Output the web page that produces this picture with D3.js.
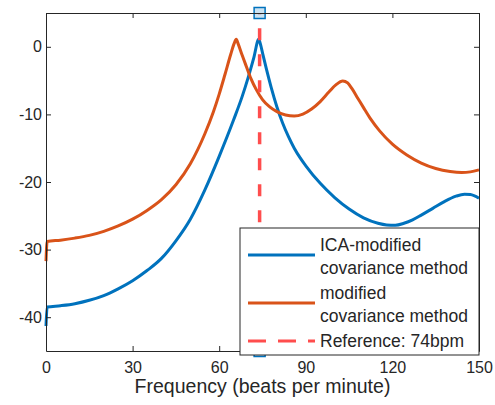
<!DOCTYPE html>
<html lang="en">
<head>
  <meta charset="UTF-8">
  <title>AR spectrum</title>
  <script src="https://d3js.org/d3.v7.min.js"></script>
  <style>
    body { margin: 0; background: #fff; }
    text { font-family: "Liberation Sans", Arial, sans-serif; fill: #262626; }
  </style>
</head>
<body>
  <svg id="spectrum" width="495" height="405"></svg>
  <script>
    // values (frequency in bpm, power in dB)
    const icaFreq = [0, 0.4, 5, 10, 15, 20, 25, 30, 35, 40, 45, 50, 55, 60, 65, 68, 70, 72, 73.7, 74.4, 75, 76.3, 78, 80, 82, 84, 86, 88, 90, 95, 100, 105, 110, 115, 118, 121, 124, 127, 130, 134, 138, 142, 145, 147, 150];
    const icaPower = [-41.3, -38.5, -38.3, -38.0, -37.5, -36.8, -35.8, -34.6, -33.1, -31.3, -28.7, -25.5, -21.2, -16.2, -10.8, -7.3, -4.6, -1.6, 1.1, 0.2, -0.9, -3.2, -6.0, -8.9, -11.3, -13.3, -15.0, -16.4, -17.6, -20.2, -22.3, -24.0, -25.3, -26.1, -26.35, -26.4, -26.1, -25.6, -24.9, -23.9, -22.9, -22.1, -21.8, -21.85, -22.4];

    const modFreq = [0, 0.4, 5, 10, 15, 20, 25, 30, 35, 40, 45, 50, 55, 58, 60, 62, 64, 65.2, 65.9, 66.6, 68, 69.4, 71, 72.8, 75, 77.5, 80, 83, 86, 89, 92, 95, 98, 100.5, 102.8, 104.5, 106, 108, 110, 112.5, 115.5, 120, 125, 130, 135, 140, 144, 147, 150];
    const modPower = [-31.7, -28.8, -28.6, -28.3, -27.9, -27.3, -26.5, -25.5, -24.2, -22.6, -20.4, -17.3, -12.9, -9.6, -7.0, -4.1, -1.1, 0.5, 1.1, 0.4, -1.3, -2.9, -4.7, -6.3, -7.8, -8.9, -9.6, -10.1, -10.25, -9.95, -9.2, -8.1, -6.7, -5.6, -5.05, -5.35, -6.2, -7.6, -9.0, -10.7, -12.4, -14.4, -16.0, -17.2, -18.0, -18.45, -18.6, -18.5, -18.2];

    const refBpm = 74;
    const xTicks = [0, 30, 60, 90, 120, 150];
    const yTicks = [-40, -30, -20, -10, 0];
    const legendLabels = [['ICA-modified', 'covariance method'], ['modified', 'covariance method'], ['Reference: 74bpm']];

    const svg = d3.select('svg#spectrum');
    const width = +svg.attr('width');
    const height = +svg.attr('height');
    const margin = { top: 13, right: 16, bottom: 54, left: 46 };
    const chartWidth = width - margin.left - margin.right;
    const chartHeight = height - margin.top - margin.bottom;

    const blue = '#0072BD';
    const orange = '#D95319';
    const red = '#FF4D4D';
    const axisColor = '#262626';

    const xScale = d3.scaleLinear().domain([0, 150]).range([0, chartWidth]);
    const yScale = d3.scaleLinear().domain([-45, 5]).range([chartHeight, 0]);

    svg.append('rect').attr('width', width).attr('height', height).attr('fill', '#fff');

    const chartArea = svg.append('g')
      .attr('transform', 'translate(' + margin.left + ',' + margin.top + ')');

    const line = d3.line()
      .x(d => xScale(d[0]))
      .y(d => yScale(d[1]))
      .curve(d3.curveMonotoneX);

    chartArea.append('path')
      .datum(d3.zip(icaFreq, icaPower))
      .attr('d', line)
      .attr('fill', 'none')
      .attr('stroke', blue)
      .attr('stroke-width', 3)
      .attr('stroke-linejoin', 'round');

    chartArea.append('path')
      .datum(d3.zip(modFreq, modPower))
      .attr('d', line)
      .attr('fill', 'none')
      .attr('stroke', orange)
      .attr('stroke-width', 3)
      .attr('stroke-linejoin', 'round');

    // reference line
    chartArea.append('line')
      .attr('x1', xScale(refBpm)).attr('x2', xScale(refBpm))
      .attr('y1', yScale(5)).attr('y2', yScale(-45))
      .attr('stroke', red)
      .attr('stroke-width', 3.5)
      .attr('stroke-dasharray', '12,14')
      .attr('stroke-dashoffset', 10.7);

    // square markers at both ends of the reference line
    chartArea.selectAll('rect.marker')
      .data([5, -45])
      .join('rect')
      .attr('class', 'marker')
      .attr('x', xScale(refBpm) - 5.5)
      .attr('y', d => yScale(d) - 5.5)
      .attr('width', 11).attr('height', 11)
      .attr('fill', blue).attr('fill-opacity', 0.2)
      .attr('stroke', blue).attr('stroke-width', 1.5);

    // axes, ticks inside, box on
    const styleAxis = g => {
      g.select('.domain').attr('stroke', axisColor);
      g.selectAll('.tick line').attr('stroke', axisColor);
      g.selectAll('.tick text').style('font-size', '16px').attr('fill', axisColor);
    };

    chartArea.append('g')
      .attr('transform', 'translate(0,' + chartHeight + ')')
      .call(d3.axisBottom(xScale).tickValues(xTicks).tickFormat(d => String(d))
        .tickSizeInner(-5).tickSizeOuter(0).tickPadding(11))
      .call(styleAxis);

    chartArea.append('g')
      .call(d3.axisTop(xScale).tickValues(xTicks).tickSizeInner(-5).tickSizeOuter(0).tickFormat(''))
      .call(styleAxis);

    chartArea.append('g')
      .call(d3.axisLeft(yScale).tickValues(yTicks).tickFormat(d => String(d))
        .tickSizeInner(-5).tickSizeOuter(0).tickPadding(4))
      .call(styleAxis);

    chartArea.append('g')
      .attr('transform', 'translate(' + chartWidth + ',0)')
      .call(d3.axisRight(yScale).tickValues(yTicks).tickSizeInner(-5).tickSizeOuter(0).tickFormat(''))
      .call(styleAxis);

    svg.selectAll('.domain').attr('stroke-width', 1);

    svg.append('text')
      .attr('x', margin.left + chartWidth / 2)
      .attr('y', 393)
      .attr('text-anchor', 'middle')
      .style('font-size', '19.5px')
      .text('Frequency (beats per minute)');

    // legend
    const legend = svg.append('g').attr('transform', 'translate(240,228)');
    legend.append('rect')
      .attr('width', 239).attr('height', 127)
      .attr('fill', '#fff')
      .attr('stroke', axisColor).attr('stroke-width', 1);

    const legendLines = [
      { color: blue, y: 27, dash: null },
      { color: orange, y: 75, dash: null },
      { color: red, y: 113, dash: '18,12' }
    ];
    const textRows = [[23, 46], [71, 94], [119]];

    legendLines.forEach((l, i) => {
      legend.append('line')
        .attr('x1', 8).attr('x2', 75)
        .attr('y1', l.y).attr('y2', l.y)
        .attr('stroke', l.color)
        .attr('stroke-width', 3)
        .attr('stroke-dasharray', l.dash);
      legendLabels[i].forEach((t, j) => {
        legend.append('text')
          .attr('x', 80)
          .attr('y', textRows[i][j])
          .style('font-size', '17.5px')
          .text(t);
      });
    });
  </script>
</body>
</html>
